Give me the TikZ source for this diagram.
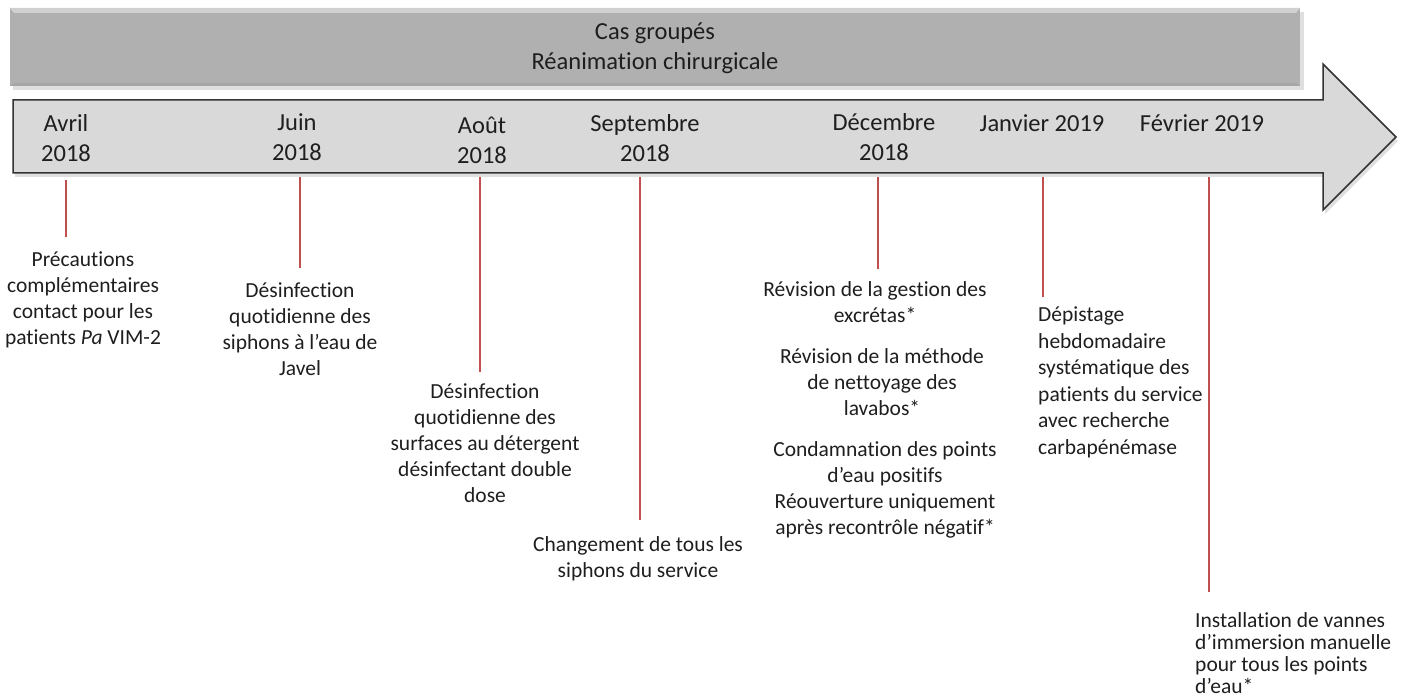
\documentclass[tikz,border=0pt]{standalone}
\usepackage{fontspec}
\setmainfont{Carlito}[RawFeature=-liga]
\definecolor{bargray}{HTML}{B0B0B0}
\definecolor{barlight}{HTML}{D0D0D0}
\definecolor{arrowfill}{HTML}{D9D9D9}
\definecolor{arrowline}{HTML}{333333}
\definecolor{tickred}{HTML}{C0504D}
\definecolor{txt}{HTML}{1E1E1E}
\tikzset{
  datelbl/.style={align=center, text=txt, font=\fontsize{24.5}{30}\selectfont, inner sep=0pt},
  bodytxt/.style={align=center, text=txt, font=\fontsize{21.5}{26}\selectfont, inner sep=0pt},
  bodyleft/.style={align=left, text=txt, font=\fontsize{21.5}{26.5}\selectfont, inner sep=0pt},
  tick/.style={draw=tickred, line width=1.1pt},
}
\begin{document}
\begin{tikzpicture}[x=1pt,y=-1pt]
\useasboundingbox (0,0) rectangle (1410,700);
% top bar
\fill[black!25, opacity=0.5] (13,12) rectangle (1304,90);
\node[draw=none, fill=bargray, minimum width=1290pt, minimum height=78pt, inner sep=0pt, anchor=north west] (bar) at (10,8) {};
\fill[barlight] (10,8) -- (1300,8) -- (1296,13) -- (14,13) -- cycle;
\fill[black!35] (10,86) -- (1300,86) -- (1296,83) -- (14,83) -- cycle;
\node[datelbl] (title) at (655,48) {Cas groupés\\Réanimation chirurgicale};
% arrow
\fill[black!12] (15,104) -- (1325,104) -- (1325,68) -- (1398,141) -- (1325,214) -- (1325,177) -- (15,177) -- cycle;
\draw[fill=arrowfill, draw=arrowline, line width=1.5pt, line join=miter]
  (13,100) -- (1323,100) -- (1323,64) -- (1396,137) -- (1323,210) -- (1323,173) -- (13,173) -- cycle;
% dates
\node[datelbl] (d1) at (66,138) {Avril\\2018};
\node[datelbl] (d2) at (297,137) {Juin\\2018};
\node[datelbl] (d3) at (482,140) {Août\\2018};
\node[datelbl] (d4) at (645,138) {Septembre\\2018};
\node[datelbl] (d5) at (884,137) {Décembre\\2018};
\node[datelbl] (d6) at (1042,123) {Janvier 2019};
\node[datelbl] (d7) at (1202,123) {Février 2019};
% texts
\node[bodytxt] (e1) at (83,300) {Précautions\\complémentaires\\contact pour les\\patients \textit{Pa} VIM-2};
\node[bodytxt] (e2) at (300,329) {Désinfection\\quotidienne des\\siphons à l’eau de\\Javel};
\node[bodytxt] (e3) at (485,443) {Désinfection\\quotidienne des\\surfaces au détergent\\désinfectant double\\dose};
\node[bodytxt] (e4) at (638,559) {Changement de tous les\\siphons du service};
\node[bodytxt, anchor=north] (e5a) at (875,281) {Révision de la gestion des\\excrétas*};
\node[bodytxt, anchor=north] (e5b) at (882,348) {Révision de la méthode\\de nettoyage des\\lavabos*};
\node[bodytxt, anchor=north] (e5c) at (885,441) {Condamnation des points\\d’eau positifs\\Réouverture uniquement\\après recontrôle négatif*};
\node[bodyleft, anchor=north west] (e6) at (1038,307) {Dépistage\\hebdomadaire\\systématique des\\patients du service\\avec recherche\\carbapénémase};
\node[bodyleft, anchor=north west, font=\fontsize{21.5}{22}\selectfont] (e7) at (1195,612) {Installation de vannes\\d’immersion manuelle\\pour tous les points\\d’eau*};
% tick lines
\coordinate (t1) at (66,180); \coordinate (b1) at (66,237);
\coordinate (t2) at (300,177); \coordinate (b2) at (300,268);
\coordinate (t3) at (480,177); \coordinate (b3) at (480,372);
\coordinate (t4) at (640,177); \coordinate (b4) at (640,520);
\coordinate (t5) at (878,177); \coordinate (b5) at (878,269);
\coordinate (t6) at (1043,177); \coordinate (b6) at (1043,297);
\coordinate (t7) at (1209,177); \coordinate (b7) at (1209,592);
\foreach \i in {1,...,7} {\draw[tick] (t\i) -- (b\i);}
\end{tikzpicture}
\end{document}
